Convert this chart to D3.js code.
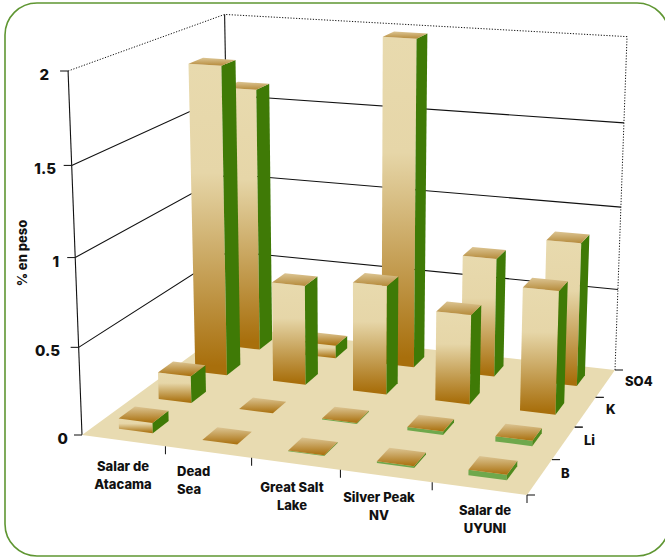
<!DOCTYPE html>
<html>
<head>
<meta charset="utf-8">
<script src="https://cdn.jsdelivr.net/npm/d3@7"></script>
<style>
html, body { margin: 0; padding: 0; background: #fff; }
svg { display: block; }
text { font-family: Inter, Lato, sans-serif; font-weight: 800; font-size: 13px; fill: #111; }
</style>
</head>
<body>
<svg id="chart" width="665" height="558"></svg>
<script>
// chart data
var categories = ["Salar de Atacama", "Dead Sea", "Great Salt Lake", "Silver Peak NV", "Salar de UYUNI"];
var series = ["B", "Li", "K", "SO4"];
var valuesB = [0.06, 0, 0.005, 0.01, 0.03];
var valuesLi = [0.16, 0, 0.006, 0.02, 0.03];
var valuesK = [1.85, 0.6, 0.65, 0.53, 0.72];
var valuesSO4 = [1.62, 0.08, 1.98, 0.72, 0.86];
var yTicks = [0, 0.5, 1, 1.5, 2];

var rows = [valuesB, valuesLi, valuesK, valuesSO4];

var width = 665, height = 558;
var svg = d3.select("#chart");

// floor corners on screen: front left, front right, back right, back left
var floor = [[82, 435], [527, 495], [615, 370], [230, 327]];
// where the upright edges would meet, and how fast
var vanish = [355, 7570], zRate = -0.02427;

var H = (function(q) {
	var dx1 = q[1][0] - q[2][0], dx2 = q[3][0] - q[2][0], sx = q[0][0] - q[1][0] + q[2][0] - q[3][0];
	var dy1 = q[1][1] - q[2][1], dy2 = q[3][1] - q[2][1], sy = q[0][1] - q[1][1] + q[2][1] - q[3][1];
	var det = dx1 * dy2 - dx2 * dy1;
	var g = (sx * dy2 - dx2 * sy) / det, h = (dx1 * sy - sx * dy1) / det;
	return {
		a: q[1][0] - q[0][0] + g * q[1][0], b: q[3][0] - q[0][0] + h * q[3][0], c: q[0][0],
		d: q[1][1] - q[0][1] + g * q[1][1], e: q[3][1] - q[0][1] + h * q[3][1], f: q[0][1],
		g: g, h: h
	};
})(floor);

// u along categories, v into the depth, z is the value
function project(u, v, z) {
	var w = H.g * u + H.h * v + 1 + z * zRate;
	return [
		(H.a * u + H.b * v + H.c + z * zRate * vanish[0]) / w,
		(H.d * u + H.e * v + H.f + z * zRate * vanish[1]) / w
	];
}

var x = d3.scaleBand().domain(categories).range([0, 1]).paddingInner(0.59).paddingOuter(0.295);
var xCell = d3.scaleBand().domain(categories).range([0, 1]);
var depth = d3.scaleBand().domain(series).range([0, 1]).paddingInner(0.6).paddingOuter(0.3);
var depthCell = d3.scaleBand().domain(series).range([0, 1]);
var z = d3.scaleLinear().domain([0, 2]).range([0, 2]);

var line = d3.line();
function poly(pts) { return line(pts) + "Z"; }

// gradients
var defs = svg.append("defs");
function gradient(id, stops) {
	var g = defs.append("linearGradient").attr("id", id)
		.attr("x1", 0).attr("y1", 0).attr("x2", 0).attr("y2", 1);
	stops.forEach(function(s) {
		g.append("stop").attr("offset", s[0]).attr("stop-color", s[1]);
	});
}
gradient("front", [[0, "#E8DAAE"], [0.35, "#E6D6A8"], [0.97, "#A86F0C"]]);
gradient("top", [[0, "#DCC593"], [1, "#A96F0C"]]);
gradient("topTall", [[0, "#DCC593"], [1, "#B58A3A"]]);

// outer frame
svg.append("rect")
	.attr("x", 5).attr("y", 3)
	.attr("width", 664).attr("height", 553)
	.attr("rx", 32).attr("ry", 32)
	.attr("fill", "#fff")
	.attr("stroke", "#5F9632")
	.attr("stroke-width", 1.6);

// walls
var grid = svg.append("g").attr("fill", "none").attr("stroke", "#111").attr("stroke-width", 1.1);
yTicks.forEach(function(t) {
	if (t == 0) return;
	var path = grid.append("path")
		.attr("d", line([project(0, 0, z(t)), project(0, 1, z(t)), project(1, 1, z(t))]));
	if (t == 2) path.attr("stroke-dasharray", "1.2,1.6").attr("stroke-width", 1);
});
grid.append("path").attr("d", line([project(0, 0, 0), project(0, 0, 2)]));
grid.append("path").attr("d", line([project(0, 1, 0), project(0, 1, 2)]));
grid.append("path").attr("d", line([project(1, 1, 0), project(1, 1, 2)]))
	.attr("stroke-dasharray", "1.2,1.6").attr("stroke-width", 1);

// floor
svg.append("path")
	.attr("d", poly(floor))
	.attr("fill", "#E8DBB1");

// ticks
var ticks = svg.append("g").attr("fill", "none").attr("stroke", "#222").attr("stroke-width", 1.1);
yTicks.forEach(function(t) {
	var p = project(0, 0, z(t));
	ticks.append("path").attr("d", line([[p[0] - 8, p[1]], p]));
});
categories.forEach(function(c, i) {
	var p = project(xCell(c) + xCell.bandwidth(), 0, 0);
	ticks.append("path").attr("d", line([p, [p[0], p[1] + 8]]));
});
series.forEach(function(s) {
	[depthCell(s), depthCell(s) + depthCell.bandwidth()].forEach(function(v) {
		var p = project(1, v, 0);
		ticks.append("path").attr("d", line([p, [p[0] + 8, p[1]]]));
	});
});

// bars, back row first
var bars = svg.append("g");
d3.range(series.length - 1, -1, -1).forEach(function(r) {
	categories.forEach(function(c, i) {
		var val = rows[r][i];
		var u0 = x(c), u1 = u0 + x.bandwidth();
		var v0 = depth(series[r]), v1 = v0 + depth.bandwidth();
		var zt = z(val);
		var g = bars.append("g");
		if (val > 0) {
			var thin = val < 0.05;
			g.append("path")
				.attr("d", poly([project(u0, v0, zt), project(u1, v0, zt), project(u1, v0, 0), project(u0, v0, 0)]))
				.attr("fill", thin ? "#6FA84C" : "url(#front)");
			g.append("path")
				.attr("d", poly([project(u1, v0, zt), project(u1, v1, zt), project(u1, v1, 0), project(u1, v0, 0)]))
				.attr("fill", thin ? "#4F8A1E" : "#3F7A06");
		}
		g.append("path")
			.attr("d", poly([project(u0, v0, zt), project(u1, v0, zt), project(u1, v1, zt), project(u0, v1, zt)]))
			.attr("fill", val > 0.4 ? "url(#topTall)" : "url(#top)");
	});
});

// labels
var labels = svg.append("g");
var catLines = [["Salar de", "Atacama"], ["Dead", "Sea"], ["Great Salt", "Lake"], ["Silver Peak", "NV"], ["Salar de", "UYUNI"]];
var catPos = [[123, 471, "middle"], [177, 476, "start"], [292, 492, "middle"], [379, 502, "middle"], [485, 515, "middle"]];
catLines.forEach(function(l, i) {
	l.forEach(function(txt, k) {
		labels.append("text")
			.attr("x", catPos[i][0])
			.attr("y", catPos[i][1] + k * 17.5)
			.attr("text-anchor", catPos[i][2])
			.text(txt);
	});
});

var seriesPos = [[561, 478], [584, 445], [606, 414], [625, 386]];
series.forEach(function(s, i) {
	labels.append("text").attr("x", seriesPos[i][0]).attr("y", seriesPos[i][1]).text(s);
});

var tickRight = [68, 60, 59, 56, 49];
yTicks.forEach(function(t, i) {
	labels.append("text")
		.attr("x", tickRight[i])
		.attr("y", project(0, 0, z(t))[1] + 9)
		.attr("text-anchor", "end")
		.style("font-size", "15px")
		.text(String(t));
});

labels.append("text")
	.attr("transform", "translate(27,253) rotate(-90)")
	.attr("text-anchor", "middle")
	.text("% en peso");
</script>
</body>
</html>
